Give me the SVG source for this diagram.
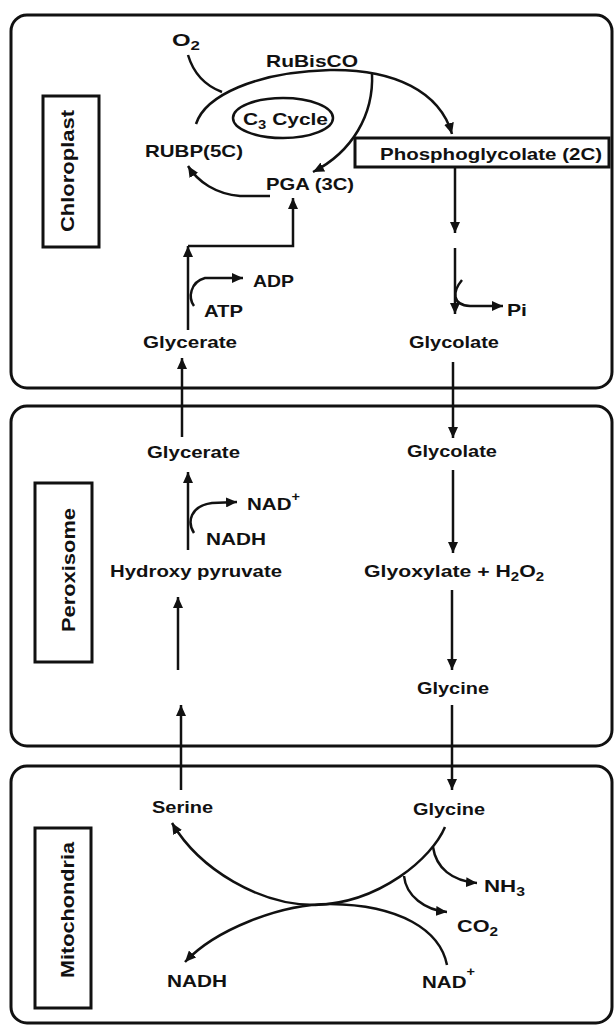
<svg xmlns="http://www.w3.org/2000/svg" width="614" height="1026" viewBox="0 0 614 1026">
<defs>
<style>
.panel{fill:none;stroke:#111;stroke-width:3}
.box{fill:none;stroke:#111;stroke-width:3}
.t{font-family:"Liberation Sans",Arial,sans-serif;font-weight:bold;font-size:17px;fill:#111}
.lt{font-family:"Liberation Sans",Arial,sans-serif;font-weight:bold;font-size:18px;fill:#111}
.c{fill:none;stroke:#111;stroke-width:2.5}
.a{marker-end:url(#ah)}
</style>
<marker id="ah" markerUnits="userSpaceOnUse" markerWidth="12" markerHeight="10" refX="11" refY="5" orient="auto">
<path d="M0,0 L11,5 L0,10 z" fill="#111"/>
</marker>
</defs>
<rect width="614" height="1026" fill="#fff"/>
<g id="panels">
<rect id="chloroplast-panel" class="panel" x="11" y="15" width="601" height="373" rx="16"/>
<rect id="peroxisome-panel" class="panel" x="11" y="406" width="601" height="340" rx="16"/>
<rect id="mitochondria-panel" class="panel" x="11" y="766" width="601" height="257" rx="16"/>
</g>
<g id="label-chloroplast"><rect class="box" x="43" y="96" width="56" height="151"/><text class="lt" transform="translate(74,171) rotate(-90)" text-anchor="middle" textLength="122" lengthAdjust="spacingAndGlyphs">Chloroplast</text></g>
<g id="label-peroxisome"><rect class="box" x="35" y="483" width="57" height="179"/><text class="lt" transform="translate(75,570) rotate(-90)" text-anchor="middle" textLength="124" lengthAdjust="spacingAndGlyphs">Peroxisome</text></g>
<g id="label-mitochondria"><rect class="box" x="35" y="828" width="56" height="180"/><text class="lt" transform="translate(74,910) rotate(-90)" text-anchor="middle" textLength="136" lengthAdjust="spacingAndGlyphs">Mitochondria</text></g>
<g id="connectors">
<path class="c" d="M188,55 C194,75 206,86 222,92"/>
<path class="c a" d="M196,124 C205,96 255,72 330,70 C395,69 440,92 452,134"/>
<path class="c a" d="M372,73 C374,115 352,152 313,172"/>
<path class="c a" d="M270,196 L240,196 C216,194 198,182 188,166"/>
<path class="c a" d="M188,330 V246"/>
<path class="c a" d="M188,246 H293 V198"/>
<path class="c a" d="M194,306 C188,298 190,282 205,278 L243,278"/>
<path class="c a" d="M455,167 V233"/>
<path class="c a" d="M455,248 V314"/>
<path class="c a" d="M462,280 C452,292 452,305 470,306 L503,306"/>
<path class="c a" d="M182,437 V358"/>
<path class="c a" d="M453,362 V438"/>
<path class="c a" d="M188,550 V472"/>
<path class="c a" d="M194,533 C187,522 190,506 212,503 L237,502"/>
<path class="c a" d="M178,670 V597"/>
<path class="c a" d="M181,790 V705"/>
<path class="c a" d="M453,470 V553"/>
<path class="c a" d="M452,590 V670"/>
<path class="c a" d="M452,705 V790"/>
<path class="c a" d="M445,827 C432,858 380,903 315,905 C260,905 200,870 172,823"/>
<path class="c a" d="M447,965 C440,930 400,905 330,904 C280,904 215,930 185,962"/>
<path class="c a" d="M433,847 C436,868 452,881 477,883"/>
<path class="c a" d="M404,876 C406,896 425,910 447,912"/>
</g>
<g id="n-o2"><text class="t" x="172" y="46" textLength="28" lengthAdjust="spacingAndGlyphs">O<tspan font-size="12" dy="4">2</tspan></text></g>
<g id="n-rubisco"><text class="t" x="266" y="67" textLength="92" lengthAdjust="spacingAndGlyphs">RuBisCO</text></g>
<g id="n-c3cycle"><ellipse class="c" cx="283" cy="118" rx="50" ry="20"/><text class="t" x="243" y="125" textLength="85" lengthAdjust="spacingAndGlyphs">C<tspan font-size="12" dy="4">3</tspan><tspan dy="-4"> Cycle</tspan></text></g>
<g id="n-rubp"><text class="t" x="145" y="157" textLength="98" lengthAdjust="spacingAndGlyphs">RUBP(5C)</text></g>
<g id="n-pga"><text class="t" x="266" y="190" textLength="88" lengthAdjust="spacingAndGlyphs">PGA (3C)</text></g>
<g id="n-phosphoglycolate"><rect class="box" x="355" y="138" width="254" height="29" stroke-width="2.5"/><text class="t" x="380" y="160" textLength="222" lengthAdjust="spacingAndGlyphs">Phosphoglycolate (2C)</text></g>
<g id="n-adp"><text class="t" x="253" y="287" textLength="41" lengthAdjust="spacingAndGlyphs">ADP</text></g>
<g id="n-atp"><text class="t" x="204" y="317" textLength="39" lengthAdjust="spacingAndGlyphs">ATP</text></g>
<g id="n-glycerate-c"><text class="t" x="143" y="348" textLength="94" lengthAdjust="spacingAndGlyphs">Glycerate</text></g>
<g id="n-glycolate-c"><text class="t" x="409" y="348" textLength="90" lengthAdjust="spacingAndGlyphs">Glycolate</text></g>
<g id="n-pi"><text class="t" x="507" y="316" textLength="20" lengthAdjust="spacingAndGlyphs">Pi</text></g>
<g id="n-glycerate-p"><text class="t" x="147" y="458" textLength="93" lengthAdjust="spacingAndGlyphs">Glycerate</text></g>
<g id="n-glycolate-p"><text class="t" x="407" y="457" textLength="90" lengthAdjust="spacingAndGlyphs">Glycolate</text></g>
<g id="n-nadplus-p"><text class="t" x="247" y="510" textLength="53" lengthAdjust="spacingAndGlyphs">NAD<tspan font-size="12" dy="-9">+</tspan></text></g>
<g id="n-nadh-p"><text class="t" x="206" y="545" textLength="60" lengthAdjust="spacingAndGlyphs">NADH</text></g>
<g id="n-hydroxypyruvate"><text class="t" x="110" y="577" textLength="172" lengthAdjust="spacingAndGlyphs">Hydroxy pyruvate</text></g>
<g id="n-glyoxylate"><text class="t" x="364" y="577" textLength="180" lengthAdjust="spacingAndGlyphs">Glyoxylate + H<tspan font-size="12" dy="4">2</tspan><tspan dy="-4">O</tspan><tspan font-size="12" dy="4">2</tspan></text></g>
<g id="n-glycine-p"><text class="t" x="417" y="694" textLength="72" lengthAdjust="spacingAndGlyphs">Glycine</text></g>
<g id="n-serine"><text class="t" x="152" y="813" textLength="61" lengthAdjust="spacingAndGlyphs">Serine</text></g>
<g id="n-glycine-m"><text class="t" x="413" y="815" textLength="72" lengthAdjust="spacingAndGlyphs">Glycine</text></g>
<g id="n-nh3"><text class="t" x="484" y="892" textLength="41" lengthAdjust="spacingAndGlyphs">NH<tspan font-size="12" dy="4">3</tspan></text></g>
<g id="n-co2"><text class="t" x="457" y="932" textLength="41" lengthAdjust="spacingAndGlyphs">CO<tspan font-size="12" dy="4">2</tspan></text></g>
<g id="n-nadh-m"><text class="t" x="167" y="987" textLength="60" lengthAdjust="spacingAndGlyphs">NADH</text></g>
<g id="n-nadplus-m"><text class="t" x="422" y="988" textLength="53" lengthAdjust="spacingAndGlyphs">NAD<tspan font-size="12" dy="-12">+</tspan></text></g>
</svg>
